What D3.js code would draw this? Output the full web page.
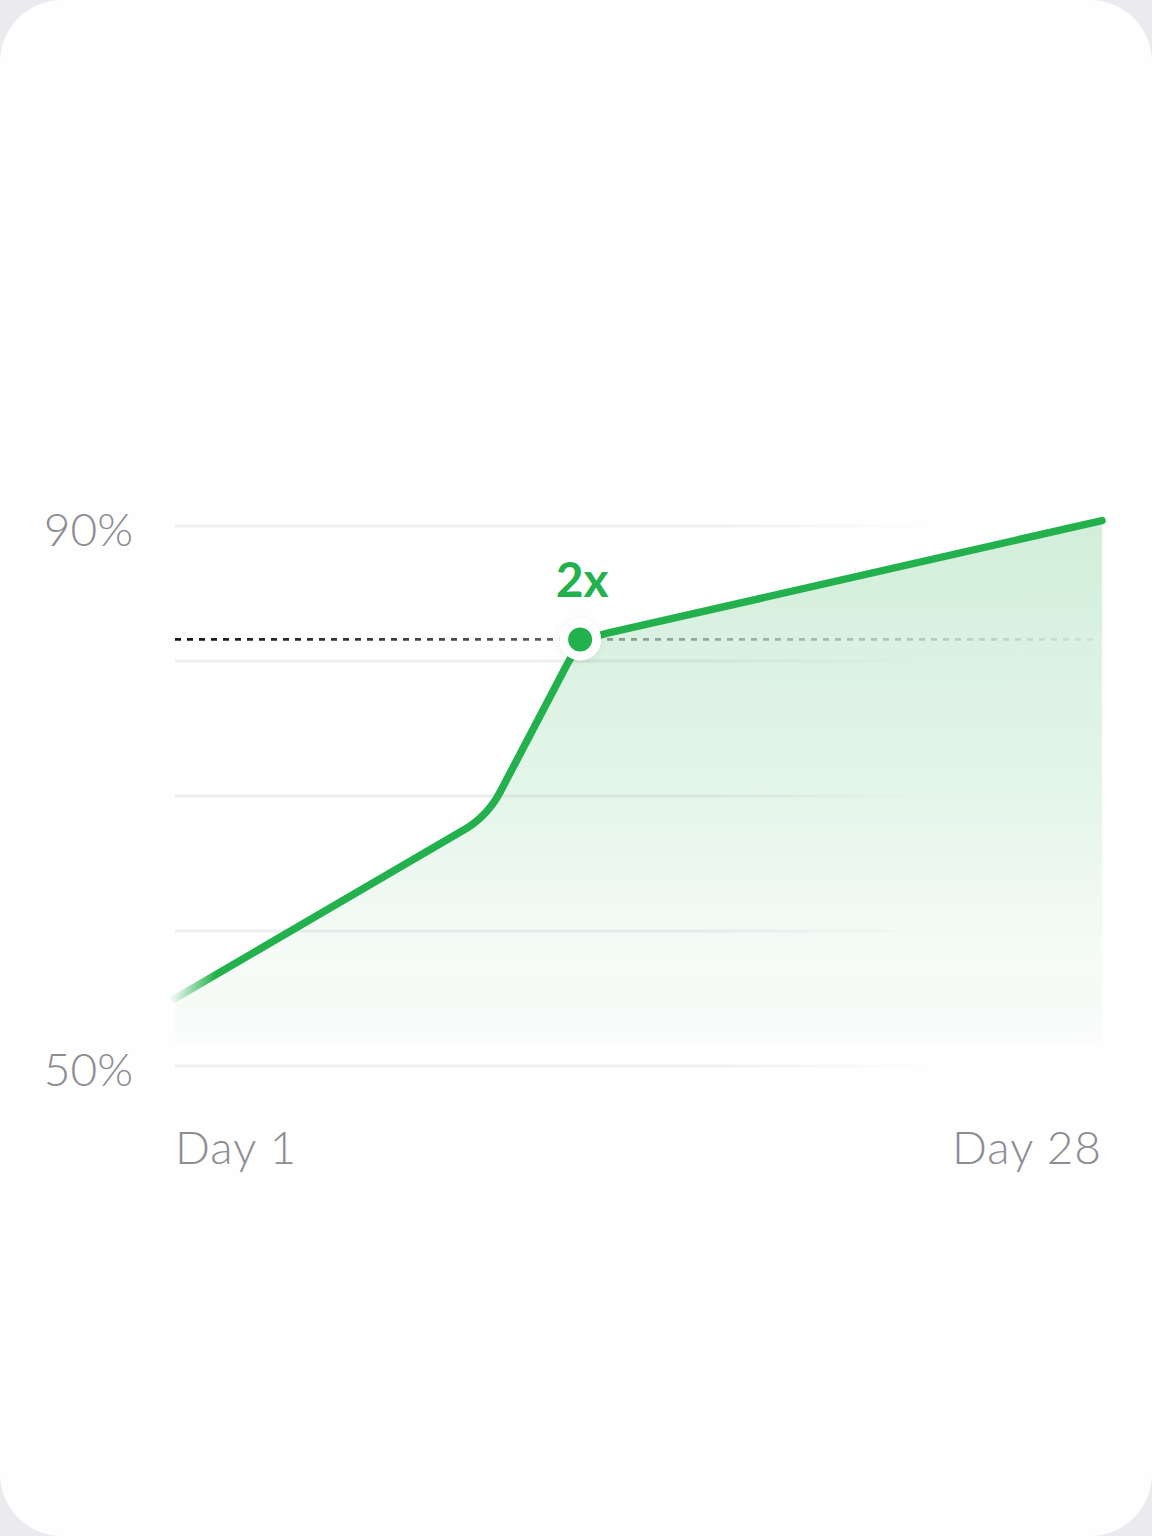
<!DOCTYPE html>
<html>
<head>
<meta charset="utf-8">
<script src="https://cdn.jsdelivr.net/npm/d3@7"></script>
<style>
  html, body { margin: 0; padding: 0; background: #ebeaef; }
  #chart { width: 1152px; height: 1536px; }
</style>
</head>
<body>
<div id="chart"></div>
<script>
// chart values
var days = [1, 10.1, 12.8, 28];
var retention = [55, 68.5, 81.6, 90.4];
var gridValues = [50, 60, 70, 80, 90];
var yTickValues = [50, 90];
var yTickLabels = ['50%', '90%'];
var xTickValues = [1, 28];
var xTickLabels = ['Day 1', 'Day 28'];
var markerDay = 12.8;
var markerValue = 81.6;
var markerLabel = '2x';

(function () {
  var W = 1152, H = 1536;
  var green = '#22b14c';
  var labelColor = '#8e8c93';
  var svg, defs, x, y;

  // **********		Curve		********************************************** //
  // straight segments with small rounded corners at each vertex
  function RoundCorner(context, r) {
    this._context = context;
    this._r = r;
  }
  RoundCorner.prototype = {
    areaStart: function () { this._line = 0; },
    areaEnd: function () { this._line = NaN; },
    lineStart: function () { this._pts = []; },
    point: function (px, py) { this._pts.push([+px, +py]); },
    lineEnd: function () {
      var p = this._pts, c = this._context, r = this._r, i;
      if (p.length) {
        if (this._line) c.lineTo(p[0][0], p[0][1]);
        else c.moveTo(p[0][0], p[0][1]);
        for (i = 1; i < p.length - 1; i++) {
          var a = p[i - 1], b = p[i], n = p[i + 1];
          var d1 = Math.hypot(a[0] - b[0], a[1] - b[1]);
          var d2 = Math.hypot(n[0] - b[0], n[1] - b[1]);
          var k = Math.min(r, d1 / 2, d2 / 2);
          c.lineTo(b[0] + (a[0] - b[0]) * k / d1, b[1] + (a[1] - b[1]) * k / d1);
          c.quadraticCurveTo(b[0], b[1], b[0] + (n[0] - b[0]) * k / d2, b[1] + (n[1] - b[1]) * k / d2);
        }
        if (p.length > 1) c.lineTo(p[p.length - 1][0], p[p.length - 1][1]);
      }
      if (this._line || (this._line !== 0 && p.length === 1)) c.closePath();
      this._line = 1 - this._line;
    }
  };
  function curveRound(context) { return new RoundCorner(context, 28); }

  // **********		Build		********************************************** //
  function build() {
    svg = d3.select('#chart').append('svg')
      .attr('width', W).attr('height', H)
      .attr('viewBox', [0, 0, W, H]);
    defs = svg.append('defs');

    x = d3.scaleLinear().domain([1, 28]).range([175, 1102]);
    y = d3.scaleLinear().domain([50, 90]).range([1066, 526]);

    // card
    svg.append('rect')
      .attr('width', W).attr('height', H)
      .attr('rx', 62).attr('ry', 62)
      .attr('fill', '#fefefe');

    // gradients
    var gridGrad = defs.append('linearGradient')
      .attr('id', 'gridGrad').attr('gradientUnits', 'userSpaceOnUse')
      .attr('x1', x(1)).attr('x2', x(28)).attr('y1', 0).attr('y2', 0);
    gridGrad.append('stop').attr('offset', 0).attr('stop-color', '#eeedf1');
    gridGrad.append('stop').attr('offset', 0.55).attr('stop-color', '#eeedf1');
    gridGrad.append('stop').attr('offset', 0.82).attr('stop-color', '#eeedf1').attr('stop-opacity', 0);

    var areaGrad = defs.append('linearGradient')
      .attr('id', 'areaGrad').attr('gradientUnits', 'userSpaceOnUse')
      .attr('x1', 0).attr('x2', 0).attr('y1', y(d3.max(retention))).attr('y2', y(50) - 20);
    areaGrad.append('stop').attr('offset', 0).attr('stop-color', green).attr('stop-opacity', 0.2);
    areaGrad.append('stop').attr('offset', 0.5).attr('stop-color', green).attr('stop-opacity', 0.12);
    areaGrad.append('stop').attr('offset', 0.85).attr('stop-color', green).attr('stop-opacity', 0.035);
    areaGrad.append('stop').attr('offset', 1).attr('stop-color', '#efeaf7').attr('stop-opacity', 0.1);

    var lineGrad = defs.append('linearGradient')
      .attr('id', 'lineGrad').attr('gradientUnits', 'userSpaceOnUse')
      .attr('x1', x(1)).attr('x2', x(2.2)).attr('y1', 0).attr('y2', 0);
    lineGrad.append('stop').attr('offset', 0).attr('stop-color', green).attr('stop-opacity', 0.1);
    lineGrad.append('stop').attr('offset', 1).attr('stop-color', green).attr('stop-opacity', 1);

    var dashGrad = defs.append('linearGradient')
      .attr('id', 'dashGrad').attr('gradientUnits', 'userSpaceOnUse')
      .attr('x1', x(1)).attr('x2', x(28)).attr('y1', 0).attr('y2', 0);
    var mk = (x(markerDay) - x(1)) / (x(28) - x(1));
    dashGrad.append('stop').attr('offset', 0).attr('stop-color', '#151515');
    dashGrad.append('stop').attr('offset', mk - 0.02).attr('stop-color', '#5f5f5f');
    dashGrad.append('stop').attr('offset', mk + 0.02).attr('stop-color', '#5a6a60').attr('stop-opacity', 0.65);
    dashGrad.append('stop').attr('offset', 1).attr('stop-color', '#5a6a60').attr('stop-opacity', 0.1);

    var shadow = defs.append('filter').attr('id', 'haloShadow')
      .attr('x', '-50%').attr('y', '-50%').attr('width', '200%').attr('height', '200%');
    shadow.append('feDropShadow')
      .attr('dx', 0).attr('dy', 1).attr('stdDeviation', 3)
      .attr('flood-color', '#000').attr('flood-opacity', 0.08);

    // grid
    svg.append('g').selectAll('line')
      .data(gridValues)
      .join('line')
      .attr('x1', x(1)).attr('x2', x(28))
      .attr('y1', function (d) { return y(d); })
      .attr('y2', function (d) { return y(d); })
      .attr('stroke', 'url(#gridGrad)')
      .attr('stroke-width', 3);

    var pts = days.map(function (d, i) { return [d, retention[i]]; });

    // area
    var area = d3.area()
      .x(function (d) { return x(d[0]); })
      .y0(y(50) - 20)
      .y1(function (d) { return y(d[1]); })
      .curve(curveRound);
    svg.append('path')
      .datum(pts)
      .attr('d', area)
      .attr('fill', 'url(#areaGrad)');

    // reference dashes
    svg.append('line')
      .attr('x1', x(1)).attr('x2', x(27.8))
      .attr('y1', y(markerValue)).attr('y2', y(markerValue))
      .attr('stroke', 'url(#dashGrad)')
      .attr('stroke-width', 2.8)
      .attr('stroke-dasharray', '6 6');

    // line
    var line = d3.line()
      .x(function (d) { return x(d[0]); })
      .y(function (d) { return y(d[1]); })
      .curve(curveRound);
    svg.append('path')
      .datum(pts)
      .attr('d', line)
      .attr('fill', 'none')
      .attr('stroke', 'url(#lineGrad)')
      .attr('stroke-width', 7.5)
      .attr('stroke-linecap', 'round')
      .attr('stroke-linejoin', 'round');

    // marker
    svg.append('circle')
      .attr('cx', x(markerDay)).attr('cy', y(markerValue))
      .attr('r', 21)
      .attr('fill', '#ffffff')
      .attr('filter', 'url(#haloShadow)');
    svg.append('circle')
      .attr('cx', x(markerDay)).attr('cy', y(markerValue))
      .attr('r', 12)
      .attr('fill', green);
    svg.append('text')
      .attr('x', x(markerDay) + 2).attr('y', y(markerValue) - 42)
      .attr('text-anchor', 'middle')
      .attr('font-family', 'Lato, "Noto Sans", sans-serif')
      .attr('font-weight', 700)
      .attr('font-size', 48)
      .attr('fill', green)
      .text(markerLabel);

    // y labels
    svg.append('g').selectAll('text')
      .data(yTickValues)
      .join('text')
      .attr('x', 133)
      .attr('y', function (d) { return y(d) + 20; })
      .attr('text-anchor', 'end')
      .attr('font-family', 'Lato, "Noto Sans", sans-serif')
      .attr('font-weight', 300)
      .attr('font-size', 46)
      .attr('fill', labelColor)
      .text(function (d, i) { return yTickLabels[i]; });

    // x labels
    svg.append('g').selectAll('text')
      .data(xTickValues)
      .join('text')
      .attr('x', function (d) { return x(d); })
      .attr('y', 1164)
      .attr('text-anchor', function (d, i) { return i === 0 ? 'start' : 'end'; })
      .attr('font-family', 'Lato, "Noto Sans", sans-serif')
      .attr('font-weight', 300)
      .attr('font-size', 46)
      .attr('letter-spacing', 1)
      .attr('fill', labelColor)
      .text(function (d, i) { return xTickLabels[i]; });
  }

  build();
})();
</script>
</body>
</html>
